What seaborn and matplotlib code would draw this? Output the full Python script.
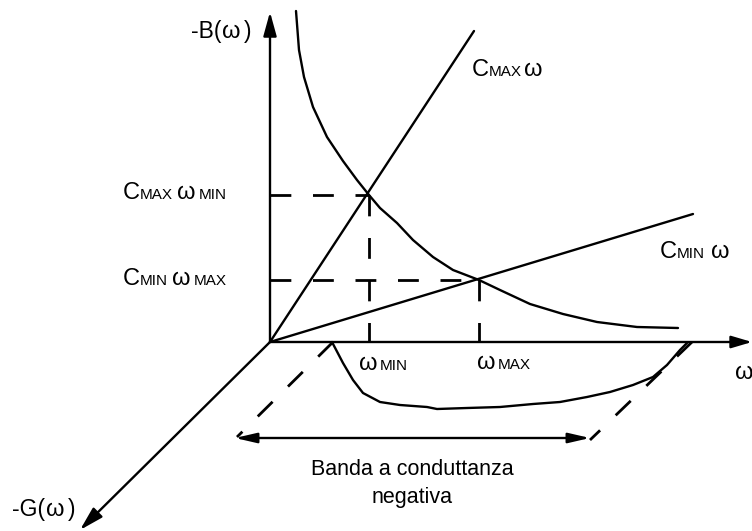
import matplotlib
matplotlib.use("Agg")
import matplotlib.pyplot as plt
import matplotlib.transforms as mtransforms
import pandas as pd
import seaborn as sns

sns.set_theme(style="white")
plt.rcParams["font.family"] = ["Liberation Sans", "DejaVu Sans"]

# Axis tips (diagram units, origin at the axes crossing)
b_axis_top = 330
w_axis_end = 482
g_axis_tip = (-190, -188)

# Capacitive susceptance lines C*omega (end points)
cmax_u = [0, 204]
cmax_v = [0, 311]
cmin_u = [0, 423]
cmin_v = [0, 128]

# Inductive susceptance branch
hyper_u = [26, 29, 34, 43, 57, 73, 87, 99, 110, 127, 143, 163, 183, 209, 230, 260, 293, 327, 367, 408]
hyper_v = [331, 292, 265, 235, 205, 181, 162, 147, 134, 119, 102, 85, 72, 62, 52, 38, 28, 20, 15, 14]

# Resonance points
w_min, w_max = 99, 209
b_wmin, b_wmax = 147, 62

# Negative conductance curve below the omega axis
gneg_u = [62, 73, 83, 93, 110, 130, 157, 167, 197, 230, 263, 290, 317, 340, 363, 383, 397, 410, 417]
gneg_v = [0, -21, -38, -51, -60, -63, -65, -67, -66, -65, -62, -60, -55, -50, -43, -35, -23, -8, -1]

# Band edges on the omega axis and their projections along -G
band_left = (63, 0, -33, -95)
band_right = (422, 0, 320, -98)
band_arrow_v = -96
band_arrow_u = (-35, 320)

fig = plt.figure(figsize=(7.52, 5.31), dpi=100)
ax = fig.add_axes([0, 0, 1, 1])
ax.set_xlim(-270, 482)
ax.set_ylim(-189, 342)
ax.axis("off")

LW = 1.7
ink = "black"


def curve(u, v, lw=LW, **kw):
    df = pd.DataFrame({"u": u, "v": v})
    sns.lineplot(data=df, x="u", y="v", sort=False, estimator=None,
                 color=ink, lw=lw, ax=ax, legend=False, **kw)


def arrow(start, tip, both=False, hl=1.45, hw=0.4):
    style = f"{'<|-|>' if both else '-|>'},head_length={hl},head_width={hw}"
    ax.annotate("", xy=tip, xytext=start,
                arrowprops=dict(arrowstyle=style, color=ink, lw=LW,
                                shrinkA=0, shrinkB=0, mutation_scale=10))


# Axes of the diagram
arrow((0, 0), (0, b_axis_top))
arrow((0, 0), (w_axis_end, 0), hl=1.25, hw=0.37)
arrow((0, 0), g_axis_tip)

# Susceptance curves
curve(cmax_u, cmax_v)
curve(cmin_u, cmin_v)
curve(hyper_u, hyper_v)
curve(gneg_u, gneg_v)

# Dashed guides to the resonance points
dash = dict(lw=2.0, linestyle=(0, (7.5, 7.8)))
curve([0, w_min], [b_wmin, b_wmin], **dash)
curve([w_min, w_min], [b_wmin, 0], **dash)
curve([0, w_max], [b_wmax, b_wmax], **dash)
curve([w_max, w_max], [b_wmax, 0], **dash)

# Band projection lines
curve([band_left[0], band_left[2]], [band_left[1], band_left[3]], **dash)
curve([band_right[0], band_right[2]], [band_right[1], band_right[3]], **dash)
arrow((band_arrow_u[1], band_arrow_v), (band_arrow_u[0], band_arrow_v), both=True,
      hl=1.3, hw=0.3)

fig.canvas.draw()
renderer = fig.canvas.get_renderer()
ident = mtransforms.IdentityTransform()
BIG, SMALL = 17, 11
TXT = 15.5


def rich_label(px, py, parts):
    """Place text pieces of mixed size on a common baseline (pixel coords, y down)."""
    x = px
    y = 531 - py
    for text, size, gap in parts:
        x += gap
        t = ax.text(x, y, text, transform=ident, fontsize=size, color=ink,
                    ha="left", va="baseline")
        x = t.get_window_extent(renderer).x1


rich_label(191, 38, [("-B(", 16.5, 0), ("ω", BIG, 1), (")", 16.5, 3)])
rich_label(123, 199, [("C", BIG, 0), ("MAX", SMALL, 0), ("ω", BIG, 4), ("MIN", SMALL, 3)])
rich_label(123, 285, [("C", BIG, 0), ("MIN", SMALL, 0), ("ω", BIG, 4), ("MAX", SMALL, 3)])
rich_label(472, 76, [("C", BIG, 0), ("MAX", SMALL, 0), ("ω", BIG, 2)])
rich_label(660, 258, [("C", BIG, 0), ("MIN", SMALL, 0), ("ω", BIG, 6)])
rich_label(359, 370, [("ω", BIG, 0), ("MIN", SMALL, 2)])
rich_label(477, 369, [("ω", BIG, 0), ("MAX", SMALL, 2)])
rich_label(735, 379, [("ω", BIG, 0)])
rich_label(12, 516, [("-G(", 16.5, 0), ("ω", BIG, 1), (")", 16.5, 3)])

ax.text(412, 531 - 475, "Banda a conduttanza", transform=ident, fontsize=TXT,
        ha="center", va="baseline", color=ink)
ax.text(412, 531 - 503, "negativa", transform=ident, fontsize=TXT,
        ha="center", va="baseline", color=ink)

fig.savefig("out.png", dpi=100)
